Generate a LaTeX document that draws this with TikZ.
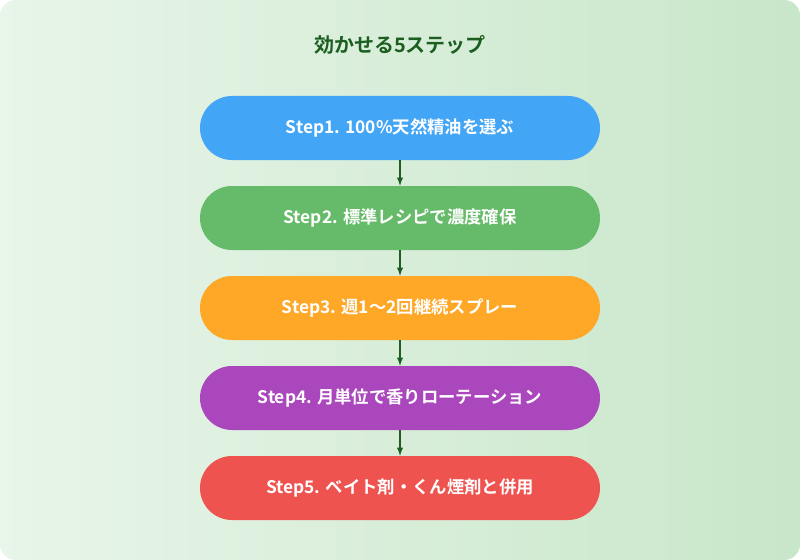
\documentclass[tikz,border=0pt]{standalone}
\usepackage{fontspec}
\setmainfont{Noto Sans CJK JP}[BoldFont={Noto Sans CJK JP Bold}]
\usetikzlibrary{positioning}
\definecolor{bgA}{HTML}{E8F5E9}
\definecolor{bgB}{HTML}{C8E6C9}
\definecolor{titlegreen}{HTML}{1B5E20}
\definecolor{stepA}{HTML}{42A5F5}
\definecolor{stepB}{HTML}{66BB6A}
\definecolor{stepC}{HTML}{FFA726}
\definecolor{stepD}{HTML}{AB47BC}
\definecolor{stepE}{HTML}{EF5350}
\begin{document}
\begin{tikzpicture}[>=latex, x=0.75pt, y=-0.75pt,
	etape/.style={rounded corners=24pt, minimum width=300pt, minimum height=48pt,
		text=white, font=\bfseries\fontsize{13pt}{15pt}\selectfont, inner sep=0pt},
	fleche/.style={->, draw=titlegreen, line width=1.1pt}]
	\useasboundingbox (0,0) rectangle (800,560);
	\shade[left color=bgA, right color=bgB, rounded corners=12pt] (0,0) rectangle (800,560);
	\node[text=titlegreen, font=\bfseries\fontsize{15pt}{18pt}\selectfont] (titre) at (400,45) {効かせる5ステップ};
	
	\node[etape, fill=stepA] (s1) at (400,128) {Step1. 100\%天然精油を選ぶ};
	\node[etape, fill=stepB] (s2) at (400,218) {Step2. 標準レシピで濃度確保};
	\node[etape, fill=stepC] (s3) at (400,308) {Step3. 週1～2回継続スプレー};
	\node[etape, fill=stepD] (s4) at (400,398) {Step4. 月単位で香りローテーション};
	\node[etape, fill=stepE] (s5) at (400,488) {Step5. ベイト剤・くん煙剤と併用};
	
	\draw[fleche] (s1) -- (s2);
	\draw[fleche] (s2) -- (s3);
	\draw[fleche] (s3) -- (s4);
	\draw[fleche] (s4) -- (s5);
	
\end{tikzpicture}
\end{document}
